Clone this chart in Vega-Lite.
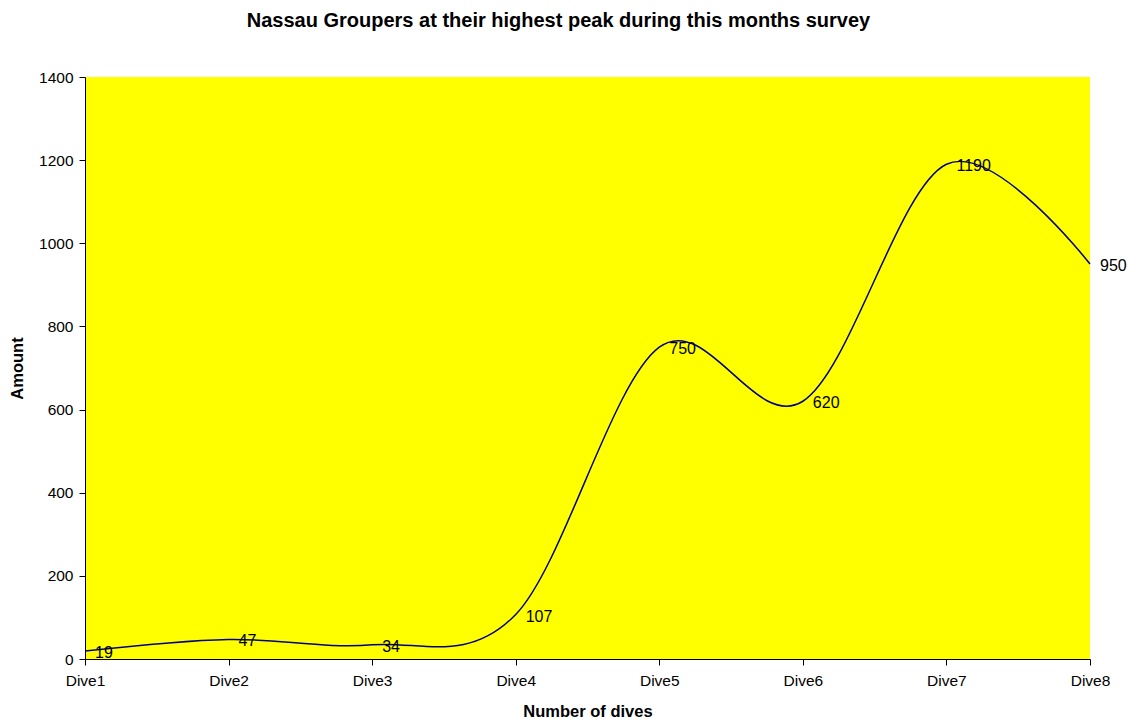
{
  "$schema": "https://vega.github.io/schema/vega-lite/v6.json",
  "autosize": {"type": "none"},
  "padding": {"left": 85, "top": 77, "right": 38, "bottom": 60},
  "width": 1005,
  "height": 582,
  "background": "white",
  "title": {
    "text": "Nassau Groupers at their highest peak during this months survey",
    "font": "Liberation Sans",
    "fontSize": 20,
    "fontWeight": "bold",
    "color": "black",
    "anchor": "middle",
    "dx": -29,
    "offset": 39
  },
  "config": {
    "view": {"fill": "#FFFF00", "stroke": null},
    "axis": {
      "grid": false,
      "domainColor": "black",
      "tickColor": "black",
      "labelFont": "Liberation Sans",
      "labelFontSize": 15.5,
      "labelColor": "black",
      "titleFont": "Liberation Sans",
      "titleFontSize": 16.5,
      "titleFontWeight": "bold",
      "titleColor": "black",
      "tickSize": 6
    }
  },
  "data": {
    "values": [
      {"dive": "Dive1", "amount": 19},
      {"dive": "Dive2", "amount": 47},
      {"dive": "Dive3", "amount": 34},
      {"dive": "Dive4", "amount": 107},
      {"dive": "Dive5", "amount": 750},
      {"dive": "Dive6", "amount": 620},
      {"dive": "Dive7", "amount": 1190},
      {"dive": "Dive8", "amount": 950}
    ]
  },
  "encoding": {
    "x": {
      "field": "dive",
      "type": "ordinal",
      "scale": {"type": "point", "padding": 0},
      "axis": {"title": "Number of dives", "labelAngle": 0, "labelPadding": 8, "titlePadding": 15}
    },
    "y": {
      "field": "amount",
      "type": "quantitative",
      "scale": {"domain": [0, 1400], "nice": false},
      "axis": {"title": "Amount", "format": "d", "values": [0, 200, 400, 600, 800, 1000, 1200, 1400], "labelPadding": 6, "titlePadding": 13}
    }
  },
  "layer": [
    {
      "mark": {"type": "line", "interpolate": "cardinal", "color": "#000080", "strokeWidth": 1.5}
    },
    {
      "mark": {"type": "text", "align": "left", "baseline": "middle", "dx": 10, "dy": 2, "font": "Liberation Sans", "fontSize": 16, "color": "black"},
      "encoding": {"text": {"field": "amount", "type": "quantitative"}}
    }
  ]
}
